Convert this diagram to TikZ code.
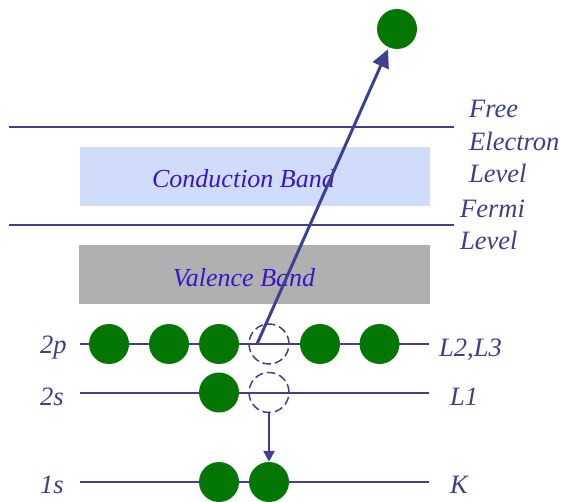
\documentclass[tikz,border=0pt]{standalone}
\usepackage{fontspec}
\setmainfont{Liberation Serif}[ItalicFont={Liberation Serif Italic}]
\usetikzlibrary{arrows.meta}
\definecolor{lvl}{RGB}{64,64,144}
\definecolor{lbl}{RGB}{62,62,140}
\definecolor{bandtxt}{RGB}{58,22,200}
\definecolor{elec}{RGB}{4,118,4}
\definecolor{cband}{RGB}{207,220,250}
\definecolor{vband}{RGB}{176,176,176}
\tikzset{
  level/.style={draw=lvl, line width=2pt},
  electron/.style={circle, fill=elec, minimum size=40pt, inner sep=0pt},
  hole/.style={circle, draw=lvl, dashed, dash pattern=on 8.5pt off 4pt, line width=1.5pt, minimum size=40pt, inner sep=0pt},
  lab/.style={text=lbl, font=\fontsize{26.5}{32.5}\selectfont\itshape, inner sep=0pt, anchor=base west},
  bandlab/.style={text=bandtxt, font=\fontsize{26}{32}\selectfont\itshape, inner sep=0pt, anchor=base},
  bigarrow/.style={draw=lvl, line width=3pt, -{Triangle[length=18pt,width=17pt]}},
  smallarrow/.style={draw=lvl, line width=2.5pt, -{Triangle[length=11pt,width=11pt]}},
}
\begin{document}
\begin{tikzpicture}[x=1pt,y=-1pt]
\useasboundingbox (0,0) rectangle (564,502);
% bands
\node[fill=cband, minimum width=350pt, minimum height=59pt, inner sep=0pt] (cb) at (255,176.5) {};
\node[fill=vband, minimum width=351pt, minimum height=59pt, inner sep=0pt] (vb) at (254.5,274.5) {};
\node[bandlab] (cbt) at (243.5,188) {Conduction Band};
\node[bandlab] (vbt) at (244,287) {Valence Band};
% free electron and Fermi levels
\coordinate (f1) at (9,127.5);
\coordinate (f2) at (454,127.5);
\coordinate (e1) at (9,225.5);
\coordinate (e2) at (454,225.5);
\draw[level] (f1) -- (f2);
\draw[level] (e1) -- (e2);
\node[lab, align=left, anchor=base west] (free) at (469,183) {Free\\Electron\\Level};
\node[lab, align=left, anchor=base west] (fermi) at (460,250) {Fermi\\Level};
% atomic levels
\coordinate (p1) at (80,344);
\coordinate (p2) at (429,344);
\coordinate (s1) at (80,392.5);
\coordinate (s2) at (429,392.5);
\coordinate (k1) at (80,482);
\coordinate (k2) at (429,482);
\draw[level] (p1) -- (p2);
\draw[level] (s1) -- (s2);
\draw[level] (k1) -- (k2);
\node[lab] (l2p) at (40,353) {2p};
\node[lab] (l2s) at (40,405) {2s};
\node[lab] (l1s) at (40,493) {1s};
\node[lab] (lL23) at (439,356) {L2,L3};
\node[lab] (lL1) at (450,405) {L1};
\node[lab] (lK) at (450,493) {K};
% electrons
\node[electron] (p_a) at (109,344) {};
\node[electron] (p_b) at (169,344) {};
\node[electron] (p_c) at (219,344) {};
\node[hole] (p_h) at (269,344) {};
\node[electron] (p_d) at (320,344) {};
\node[electron] (p_e) at (379.5,344) {};
\node[electron] (s_a) at (219,392.5) {};
\node[hole] (s_h) at (269,392.5) {};
\node[electron] (k_a) at (219,482) {};
\node[electron] (k_b) at (269,482) {};
\node[electron] (top) at (397,29) {};
% transitions
\coordinate (exc) at (257,344);
\draw[bigarrow, shorten >=2pt] (exc) -- (top);
\draw[smallarrow] (s_h) -- (k_b);
\end{tikzpicture}
\end{document}
